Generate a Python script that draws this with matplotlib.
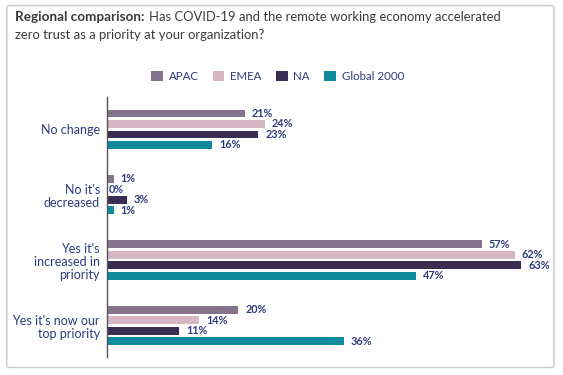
import numpy as np
import matplotlib.pyplot as plt
from matplotlib.patches import FancyBboxPatch

# Data
categories = ["No change", "No it's\ndecreased", "Yes it's\nincreased in\npriority",
              "Yes it's now our\ntop priority"]
series = ["APAC", "EMEA", "NA", "Global 2000"]
apac = [21, 1, 57, 20]
emea = [24, 0, 62, 14]
na = [23, 3, 63, 11]
global2000 = [16, 1, 47, 36]

colors = ["#86748d", "#d6b7c3", "#3a2d54", "#0d8b9c"]
navy = "#2c3b7d"

plt.rcParams['font.family'] = ['Lato', 'DejaVu Sans']

fig = plt.figure(figsize=(5.63, 3.75), dpi=100)
fig.patch.set_facecolor("white")

# card with soft border
card = FancyBboxPatch((0.012, 0.02), 0.972, 0.965, boxstyle="round,pad=0,rounding_size=0.006",
                      transform=fig.transFigure, facecolor="white", edgecolor="#d0d0d0",
                      linewidth=1.2, zorder=-10)
fig.patches.append(card)

# title: bold lead-in followed by normal text
t1 = fig.text(0.027, 0.945, "Regional comparison:", fontsize=9.7, fontweight="bold", color="#3a3a3a")
fig.canvas.draw()
bb = t1.get_window_extent()
x2 = (bb.x1 + 4) / fig.bbox.width
fig.text(x2, 0.945, "Has COVID-19 and the remote working economy accelerated",
         fontsize=9.4, color="#3a3a3a")
fig.text(0.027, 0.897, "zero trust as a priority at your organization?", fontsize=9.4, color="#3a3a3a")

ax = fig.add_axes([0.19, 0.048, 0.80, 0.693])
values = [apac, emea, na, global2000]
y = np.arange(len(categories))
pitch = 0.16
for i, (name, vals) in enumerate(zip(series, values)):
    pos = y + (i - 1.5) * pitch
    bars = ax.barh(pos, vals, height=0.12, color=colors[i], label=name)
    for b, v in zip(bars, vals):
        off = 5 if v > 0 else 1
        ax.annotate(f"{v}%", (v, b.get_y() + b.get_height() / 2), xytext=(off, 0),
                    textcoords="offset points", va="center", ha="left",
                    fontsize=7.8, fontweight="bold", color=navy)

ax.set_xlim(0, 68.5)
ax.set_ylim(3.48, -0.49)
ax.set_yticks(y)
ax.set_yticklabels(categories, fontsize=9, color=navy, linespacing=1.1)
ax.tick_params(axis="y", length=0, pad=5)
ax.set_xticks([])
for s in ["top", "right", "bottom"]:
    ax.spines[s].set_visible(False)
ax.spines["left"].set_color("#555555")
ax.spines["left"].set_linewidth(1)
ax.set_facecolor("none")

leg = fig.legend(loc="center", bbox_to_anchor=(0.493, 0.797), ncol=4, frameon=False,
                 fontsize=8.3, handlelength=1.0, handleheight=1.0, columnspacing=1.25,
                 handletextpad=0.5)
for t in leg.get_texts():
    t.set_color(navy)

fig.savefig("out.png", dpi=100)
